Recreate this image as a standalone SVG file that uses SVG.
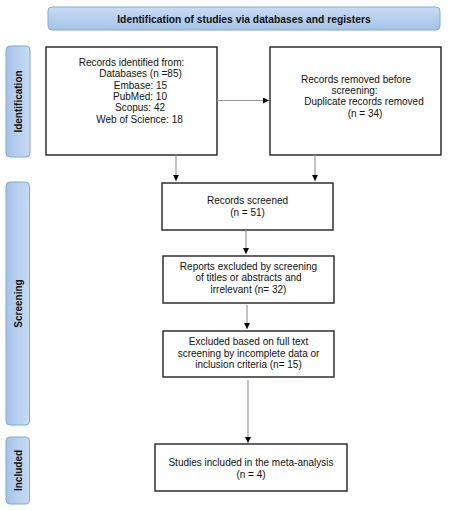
<svg xmlns="http://www.w3.org/2000/svg" width="450" height="510" viewBox="0 0 450 510">
<defs>
<linearGradient id="gh" x1="0" y1="0" x2="0" y2="1">
<stop offset="0" stop-color="#c9dcf2"/>
<stop offset="1" stop-color="#a4c3e8"/>
</linearGradient>
<linearGradient id="gv" x1="0" y1="0" x2="1" y2="0">
<stop offset="0" stop-color="#a4c3e8"/>
<stop offset="1" stop-color="#c9dcf2"/>
</linearGradient>
<marker id="ah" viewBox="0 0 10 10" refX="10" refY="5" markerWidth="6" markerHeight="6" markerUnits="userSpaceOnUse" orient="auto">
<path d="M0,0 L10,5 L0,10 z" fill="#000"/>
</marker>
</defs>
<style>
.band{fill:url(#gh);stroke:#7fa9da;stroke-width:1}
.side{fill:url(#gv);stroke:#7fa9da;stroke-width:1}
.box{fill:#fff;stroke:#222;stroke-width:1.4}
.t{font-family:"Liberation Sans",Arial,sans-serif;font-size:10px;fill:#111;text-anchor:middle}
.b{font-family:"Liberation Sans",Arial,sans-serif;font-size:10px;font-weight:bold;fill:#111;text-anchor:middle}
.c{stroke:#9a9a9a;stroke-width:1.2;fill:none;marker-end:url(#ah)}
</style>
<rect width="450" height="510" fill="#fff"/>
<g id="title">
<rect class="band" x="48" y="7" width="392" height="23" rx="4"/>
<text class="b" x="244" y="22.5" style="font-size:10.3px">Identification of studies via databases and registers</text>
</g>
<g id="phase-identification">
<rect class="side" x="6" y="46" width="24" height="111" rx="4"/>
<text class="b" transform="translate(21.5,101.5) rotate(-90)">Identification</text>
</g>
<g id="phase-screening">
<rect class="side" x="6" y="182" width="23.5" height="243" rx="4"/>
<text class="b" transform="translate(21.5,303.5) rotate(-90)">Screening</text>
</g>
<g id="phase-included">
<rect class="side" x="6" y="437" width="23.5" height="67" rx="4"/>
<text class="b" transform="translate(21.5,470.5) rotate(-90)">Included</text>
</g>
<g id="records-identified">
<rect class="box" x="46" y="47" width="171" height="108"/>
<text class="t" x="131.5" y="66">Records identified from:</text>
<text class="t" x="140.5" y="77">Databases (n =85)</text>
<text class="t" x="140.5" y="88.5">Embase: 15</text>
<text class="t" x="140" y="99.5">PubMed: 10</text>
<text class="t" x="140" y="111">Scopus: 42</text>
<text class="t" x="139.5" y="122.5">Web of Science: 18</text>
</g>
<g id="records-removed">
<rect class="box" x="270" y="47" width="171" height="108"/>
<text class="t" x="356" y="82.5">Records removed before</text>
<text class="t" x="354.5" y="93.5">screening:</text>
<text class="t" x="364" y="105">Duplicate records removed</text>
<text class="t" x="365" y="116.5">(n = 34)</text>
</g>
<g id="records-screened">
<rect class="box" x="162" y="183" width="171" height="47"/>
<text class="t" x="247.5" y="204">Records screened</text>
<text class="t" x="247.5" y="216">(n = 51)</text>
</g>
<g id="reports-excluded">
<rect class="box" x="163" y="256" width="171" height="47"/>
<text class="t" x="248.5" y="270">Reports excluded by screening</text>
<text class="t" x="248.5" y="281">of titles or abstracts and</text>
<text class="t" x="248.5" y="292.5">irrelevant (n= 32)</text>
</g>
<g id="fulltext-excluded">
<rect class="box" x="163" y="331" width="171" height="46"/>
<text class="t" x="248.5" y="345">Excluded based on full text</text>
<text class="t" x="248.5" y="356.5">screening by incomplete data or</text>
<text class="t" x="248.5" y="368">inclusion criteria (n= 15)</text>
</g>
<g id="studies-included">
<rect class="box" x="155" y="444" width="192" height="47"/>
<text class="t" x="251" y="466">Studies included in the meta-analysis</text>
<text class="t" x="251" y="478">(n = 4)</text>
</g>
<g id="connectors">
<path class="c" d="M217,100.5 H269"/>
<path class="c" d="M176,155 V181"/>
<path class="c" d="M315,155 V181"/>
<path class="c" d="M246,230 V254"/>
<path class="c" d="M247,305 V329"/>
<path class="c" d="M248,380 V443"/>
</g>
</svg>
